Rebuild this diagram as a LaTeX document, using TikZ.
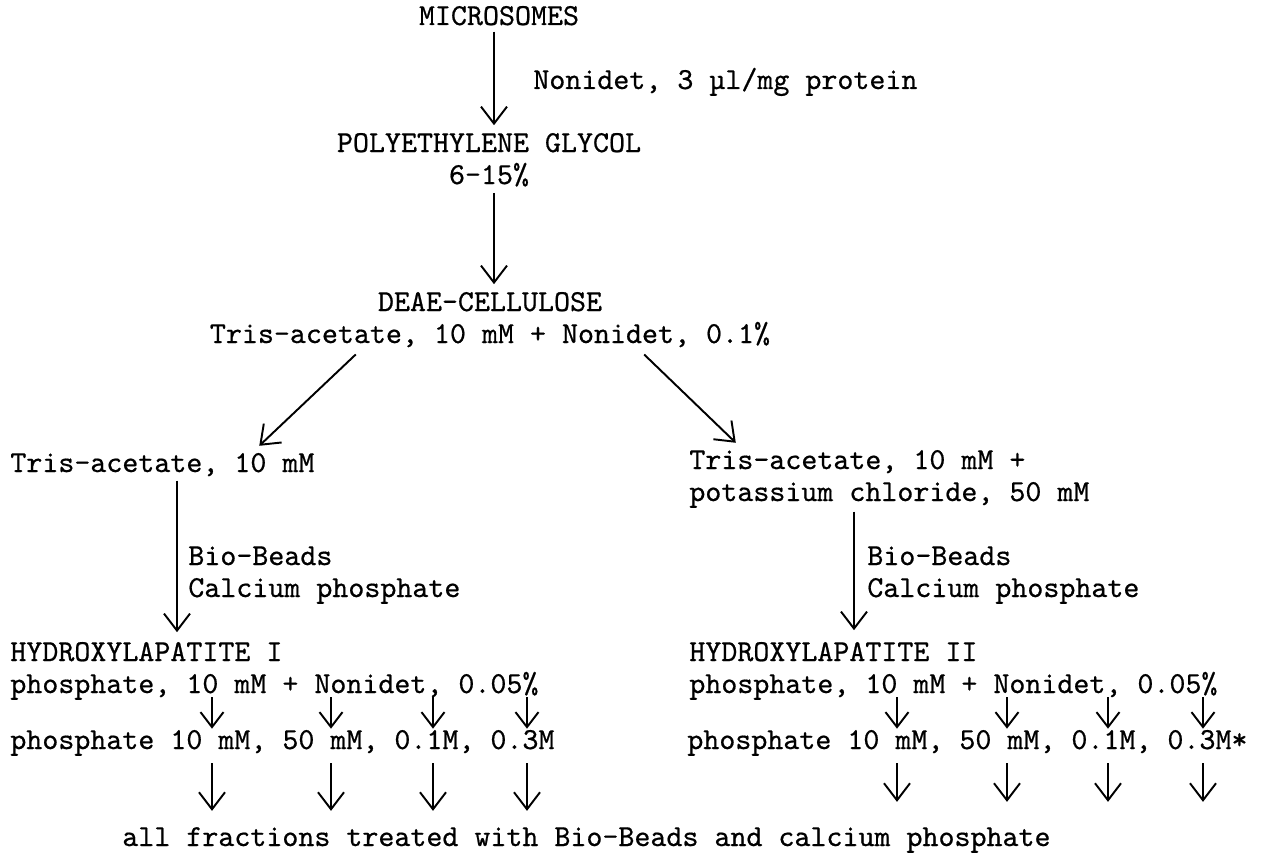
\documentclass[tikz,border=0pt]{standalone}
\usepackage{fontspec}
\setmonofont{lmmono10-regular.otf}[FakeBold=0.6]
\usetikzlibrary{arrows.meta}

\begin{document}
\begin{tikzpicture}[x=0.02cm, y=-0.02cm, font=\ttfamily\fontsize{17.35}{18.2}\selectfont]
  \tikzstyle{format} = [inner sep=0pt, align=left, anchor=base west]
  \tikzstyle{flow} = [line width=1.1pt, -{Straight Barb[length=0.34cm, width=0.52cm, line width=1.1pt]}, shorten <=0.12cm, shorten >=0.15cm]
  \tikzstyle{frac} = [line width=1.1pt, -{Straight Barb[length=0.3cm, width=0.46cm, line width=1.1pt]}, shorten <=-0.06cm, shorten >=0.02cm]
  \useasboundingbox (0,0) rectangle (1265,855);

  % main column
  \draw (499,25) node[format, anchor=base] (mic) {MICROSOMES};
  \draw (533,89) node[format] (det) {Nonidet, 3 µl/mg protein};
  \draw (489,184) node[format, anchor=base, align=center] (peg) {POLYETHYLENE GLYCOL\\6-15\%};
  \draw (490,343) node[format, anchor=base, align=center] (deae) {DEAE-CELLULOSE\\Tris-acetate, 10 mM + Nonidet, 0.1\%};

  % two branches
  \draw (10,472) node[format] (trisL) {Tris-acetate, 10 mM};
  \draw (689,501) node[format] (trisR) {Tris-acetate, 10 mM +\\potassium chloride, 50 mM};
  \draw (188,597) node[format] (bbL) {Bio-Beads\\Calcium phosphate};
  \draw (867,597) node[format] (bbR) {Bio-Beads\\Calcium phosphate};
  \draw (10,693) node[format] (hapI) {HYDROXYLAPATITE I\\phosphate, 10 mM + Nonidet, 0.05\%};
  \draw (689,693) node[format] (hapII) {HYDROXYLAPATITE II\\phosphate, 10 mM + Nonidet, 0.05\%};
  \draw (10,749) node[format] (rowI) {phosphate 10 mM, 50 mM, 0.1M, 0.3M};
  \draw (687,749) node[format] (rowII) {phosphate 10 mM, 50 mM, 0.1M, 0.3M*};
  \draw (122,846) node[format] (all) {all fractions treated with Bio-Beads and calcium phosphate};

  \coordinate (colM) at (494,0);
  \coordinate (colL) at (177,0);
  \coordinate (colR) at (854,0);
  \draw [flow] (mic.south -| colM) -- (peg.north -| colM);
  \draw [flow] (peg.south -| colM) -- (deae.north -| colM);

  % diagonals
  \coordinate (dL) at (363,0);
  \coordinate (eL) at (252,0);
  \coordinate (dR) at (637,0);
  \coordinate (eR) at (743,0);
  \draw [flow, shorten <=0.2cm, shorten >=0.2cm] (deae.south -| dL) -- (trisL.north -| eL);
  \draw [flow, shorten <=0.2cm, shorten >=0.2cm] (deae.south -| dR) -- (trisR.north -| eR);

  \draw [flow, shorten <=0.08cm, shorten >=0.19cm] (trisL.south -| colL) -- (hapI.north -| colL);
  \draw [flow, shorten <=0.07cm, shorten >=0.23cm] (trisR.south -| colR) -- (hapII.north -| colR);

  % fractions
  \foreach \x [count=\i] in {212,331,433,527} {
    \coordinate (fI\i) at (\x,0);
    \draw [frac] (hapI.south -| fI\i) -- (rowI.north -| fI\i);
    \draw [flow, shorten <=0.14cm, shorten >=0.32cm] (rowI.south -| fI\i) -- (all.north -| fI\i);
  }
  \foreach \x [count=\i] in {897,1007,1108,1203} {
    \coordinate (fII\i) at (\x,0);
    \draw [frac] (hapII.south -| fII\i) -- (rowII.north -| fII\i);
    \draw [flow, shorten <=0.14cm, shorten >=0.5cm] (rowII.south -| fII\i) -- (all.north -| fII\i);
  }
\end{tikzpicture}
\end{document}
